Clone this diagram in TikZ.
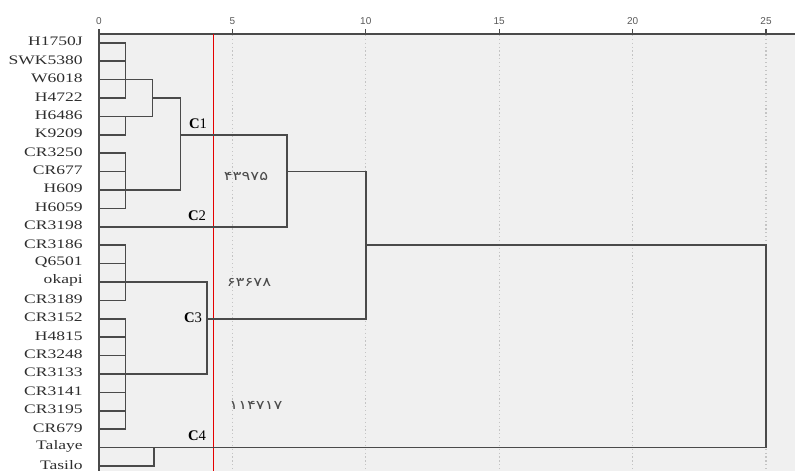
\documentclass[tikz,border=0pt]{standalone}
\usepackage{fontspec}
\setmainfont{Liberation Serif}
\newfontfamily\leaffont[FakeStretch=1.35]{Liberation Serif}
\newfontfamily\tickfont{Liberation Sans}
\newfontfamily\arabicfont[Script=Arabic,FakeStretch=1.3]{DejaVu Sans}
\usepackage{tikz}
\usetikzlibrary{
  calc,
  positioning,
  backgrounds
}
\definecolor{dgPanel}{HTML}{F0F0F0}
\definecolor{dgLink}{HTML}{4A4A4A}
\definecolor{dgText}{HTML}{2E2E2E}
\definecolor{dgGrid}{HTML}{C4C4C4}
\colorlet{dgCut}{red!90!black}

\begin{document}
\begin{tikzpicture}[x=0.75pt, y=-0.75pt,
  link/.style={draw=dgLink, line width=1.2pt},
  leaf/.style={font=\leaffont\fontsize{9.75}{11}\selectfont, text=dgText, anchor=east, inner sep=0pt},
  clus/.style={font=\fontsize{11}{12}\selectfont, text=black, inner sep=0pt},
  fa/.style={font=\arabicfont\fontsize{9.5}{11}\selectfont, text=dgLink, inner sep=0pt}]
  \useasboundingbox (0,0) rectangle (795,471);
  \def\xo{99}
  \def\xs{26.68}
  % plot panel, grid, axis
  \fill[dgPanel] (\xo,34) rectangle (795,471);
  \foreach \v in {5,10,...,25}{
    \draw[dgGrid, dotted, line width=0.9pt] ({\xo+\xs*\v},35) -- ({\xo+\xs*\v},471);
  }
  \foreach \v in {0,5,...,25}{
    \draw[dgLink, line width=1pt] ({\xo+\xs*\v},29) -- ({\xo+\xs*\v},34);
    \node[font=\tickfont\fontsize{7.5}{9}\selectfont, text=black!65] (t\v) at ({\xo+\xs*\v},21) {\v};
  }
  \draw[dgLink, line width=1.2pt] (\xo,34) -- (795,34);
  \draw[dgLink, line width=1.5pt] (\xo,34) -- (\xo,471);
  \draw[dgCut, line width=1.1pt] (213.5,34) -- (213.5,471);
  % leaves
  \foreach \i/\lbl in {0/H1750J, 1/SWK5380, 2/W6018, 3/H4722, 4/H6486, 5/K9209,
    6/CR3250, 7/CR677, 8/H609, 9/H6059, 10/CR3198, 11/CR3186, 12/Q6501,
    13/okapi, 14/CR3189, 15/CR3152, 16/H4815, 17/CR3248, 18/CR3133,
    19/CR3141, 20/CR3195, 21/CR679, 22/Talaye, 23/Tasilo}{
    \node[leaf] (l\i) at (83,{41.5+18.4*\i}) {\lbl};
    \coordinate (s\i) at (\xo,{42.7+18.4*\i});
  }
  % merge heights
  \coordinate (ka) at ({\xo+\xs*1.0},0);
  \coordinate (kb) at ({\xo+\xs*2.0},0);
  \coordinate (kc) at ({\xo+\xs*3.05},0);
  \coordinate (kd) at ({\xo+\xs*4.04},0);
  \coordinate (ke) at ({\xo+\xs*7.04},0);
  \coordinate (kf) at ({\xo+\xs*10.0},0);
  \coordinate (kg) at ({\xo+\xs*25.0},0);
  \coordinate (kt) at ({\xo+\xs*2.07},0);
  \foreach \i in {0,...,9,11,12,...,21}{
    \draw[link] (s\i) -- (s\i -| ka);
  }
  \draw[link] (s0 -| ka) -- (s3 -| ka);
  \draw[link] (s4 -| ka) -- (s5 -| ka);
  \draw[link] (s2 -| ka) -- (s2 -| kb) -- (s4 -| kb) -- (s4 -| ka);
  \draw[link] (s3 -| kb) -- (s3 -| kc) -- (s8 -| kc) -- (s8 -| ka);
  \draw[link] (s6 -| ka) -- (s9 -| ka);
  \draw[link] (s5 -| kc) -- (s5 -| ke) -- (s10 -| ke) -- (s10);
  \draw[link] (s7 -| ke) -- (s7 -| kf) -- (s15 -| kf) -- (s15 -| kd);
  \draw[link] (s11 -| ka) -- (s14 -| ka);
  \draw[link] (s15 -| ka) -- (s21 -| ka);
  \draw[link] (s13 -| ka) -- (s13 -| kd) -- (s18 -| kd) -- (s18 -| ka);
  \draw[link] (s11 -| kf) -- (s11 -| kg) -- (s22 -| kg) -- (s22);
  \draw[link] (s23) -- (s23 -| kt) -- (s22 -| kt);
  % cluster marks
  \node[clus] (c1) at (198,124) {\textbf{C}1};
  \node[clus] (c2) at (197,216) {\textbf{C}2};
  \node[clus] (c3) at (193,318) {\textbf{C}3};
  \node[clus] (c4) at (197,436) {\textbf{C}4};
  \node[fa] (n1) at (246,176) {۴۳۹۷۵};
  \node[fa] (n2) at (249,282) {۶۳۶۷۸};
  \node[fa] (n3) at (256,405) {۱۱۴۷۱۷};
\end{tikzpicture}
\end{document}
